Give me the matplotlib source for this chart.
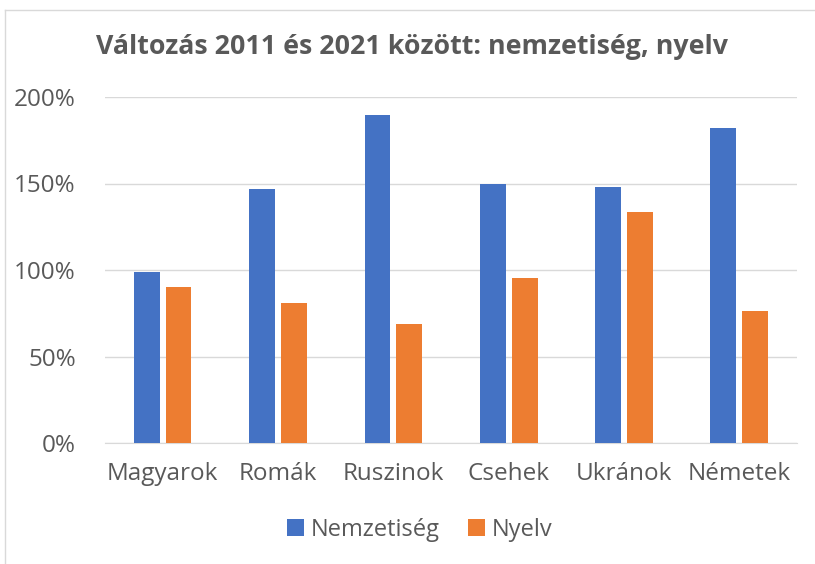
import matplotlib
matplotlib.use("Agg")
import matplotlib.pyplot as plt
from matplotlib.lines import Line2D
from matplotlib.ticker import FuncFormatter
import numpy as np

categories = ["Magyarok", "Romák", "Ruszinok", "Csehek", "Ukránok", "Németek"]
nemzetiseg = [99.0, 147.1, 189.6, 149.8, 147.7, 182.2]
nyelv = [90.3, 81.1, 68.7, 95.4, 133.4, 76.1]
series_names = ["Nemzetiség", "Nyelv"]
title = "Változás 2011 és 2021 között: nemzetiség, nyelv"

plt.rcParams['font.family'] = ['Open Sans', 'DejaVu Sans']
txt = "#595959"
W, H = 815, 564
fig = plt.figure(figsize=(W/100, H/100), dpi=100)
ax = fig.add_axes([105/W, (H-443)/H, (797-105)/W, (443-97)/H])

x = np.arange(len(categories))
bw = 0.225
gap = 0.05
ax.bar(x - (bw+gap)/2, nemzetiseg, bw, color="#4472C4", label=series_names[0], zorder=3)
ax.bar(x + (bw+gap)/2, nyelv, bw, color="#ED7D31", label=series_names[1], zorder=3)

ax.set_xlim(-0.5, len(categories)-0.5)
ax.set_ylim(0, 200)
ax.set_yticks([0, 50, 100, 150, 200])
ax.yaxis.set_major_formatter(FuncFormatter(lambda v, p: f"{v:.0f}%"))
ax.set_xticks(x)
ax.set_xticklabels(categories)
ax.grid(axis='y', color="#d9d9d9", linewidth=1, zorder=0)
for s in ["top", "right", "left"]:
    ax.spines[s].set_visible(False)
ax.spines["bottom"].set_color("#d9d9d9")
ax.tick_params(axis='both', length=0, labelsize=17.5, colors=txt)
ax.tick_params(axis='y', pad=21)
ax.tick_params(axis='x', pad=14)

fig.text(412/W, 1-47/H, title, ha='center', va='center', fontsize=19.3, fontweight='bold', color=txt)

leg = fig.legend(loc='center', bbox_to_anchor=(420/W, 1-530/H), ncol=2, frameon=False,
                 fontsize=17, handlelength=0.7, handleheight=0.7, handletextpad=0.3,
                 columnspacing=1.2, labelcolor=txt)

fig.add_artist(Line2D([5/W, 1], [1-10/H, 1-10/H], color="#d9d9d9", lw=1))
fig.add_artist(Line2D([5/W, 5/W], [0, 1-10/H], color="#d9d9d9", lw=1))

fig.savefig("out.png", dpi=100)
